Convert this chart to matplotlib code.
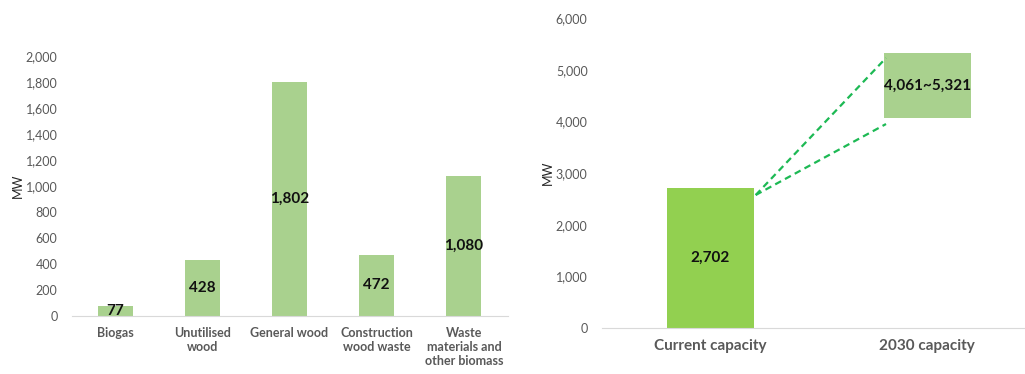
import matplotlib
matplotlib.use('Agg')
import matplotlib.pyplot as plt

plt.rcParams['font.family'] = ['Lato', 'DejaVu Sans']

# left panel: capacity by fuel type
fuels = ['Biogas', 'Unutilised\nwood', 'General wood', 'Construction\nwood waste',
         'Waste\nmaterials and\nother biomass']
fuel_mw = [77, 428, 1802, 472, 1080]

# right panel: current vs 2030
cap_labels = ['Current capacity', '2030 capacity']
current_mw = 2702
target_low = 4061
target_high = 5321
# dashed guide lines (value at current bar edge, values at 2030 box edge)
guide_start = 2574
guide_ends = [5226, 3948]

light = '#A9D18E'
bright = '#92D050'
tick_col = '#595959'

fig = plt.figure(figsize=(10.25, 3.74), dpi=100)
W, H = 1025, 374

def style(ax):
    for s in ['top', 'right', 'left']:
        ax.spines[s].set_visible(False)
    ax.spines['bottom'].set_color('#D9D9D9')
    ax.tick_params(axis='both', length=0, colors=tick_col)
    ax.yaxis.set_major_formatter(matplotlib.ticker.StrMethodFormatter('{x:,.0f}'))

# ---- left ----
ax1 = fig.add_axes([71.5 / W, (H - 316) / H, 436 / W, 260 / H])
x = range(len(fuels))
ax1.bar(x, fuel_mw, width=0.4, color=light)
ax1.set_xlim(-0.5, len(fuels) - 0.5)
ax1.set_ylim(0, 2000)
ax1.set_yticks(range(0, 2001, 200))
ax1.set_xticks(list(x))
ax1.set_xticklabels(fuels, fontsize=9, fontweight='bold', color='#262626', va='top')
ax1.tick_params(axis='x', pad=8)
ax1.tick_params(axis='y', labelsize=9, pad=10)
style(ax1)
ax1.set_ylabel('MW', fontsize=9, color='#262626', labelpad=1)
for i, v in enumerate(fuel_mw):
    ax1.text(i, max(v / 2, 15), f'{v:,}', ha='center', va='center',
             fontsize=11, fontweight='bold', color='#111111')

# ---- right ----
ax2 = fig.add_axes([601.5 / W, (H - 328) / H, 423.5 / W, 310 / H])
ax2.bar([0], [current_mw], width=0.4, color=bright)
ax2.bar([1], [target_high - target_low], bottom=target_low, width=0.4, color=light)
ax2.set_xlim(-0.5, 1.45)
ax2.set_ylim(0, 6000)
ax2.set_yticks(range(0, 6001, 1000))
ax2.set_xticks([0, 1])
ax2.set_xticklabels(cap_labels, fontsize=11, fontweight='bold', color='#262626')
ax2.tick_params(axis='x', pad=8)
ax2.tick_params(axis='y', labelsize=9, pad=10)
style(ax2)
ax2.set_ylabel('MW', fontsize=9, color='#262626', labelpad=1.5)
ax2.text(0, current_mw / 2, f'{current_mw:,}', ha='center', va='center',
         fontsize=11, fontweight='bold', color='#111111')
ax2.text(1, (target_low + target_high) / 2, f'{target_low:,}~{target_high:,}',
         ha='center', va='center', fontsize=11, fontweight='bold', color='#111111')
for e in guide_ends:
    ax2.plot([0.21, 0.81], [guide_start, e], ls=(0, (3, 2)), color='#1DB954', lw=1.6)

fig.savefig('out.png', dpi=100)
